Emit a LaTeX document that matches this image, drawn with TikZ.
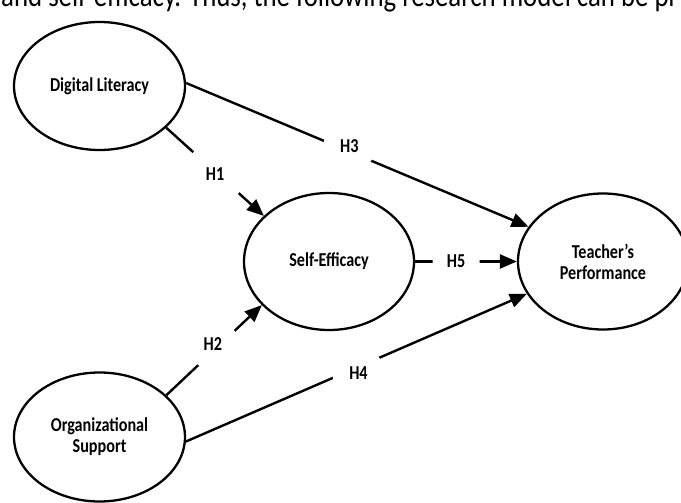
\documentclass[tikz,border=0pt]{standalone}
\usepackage{fontspec}
\setmainfont{Carlito}[FakeStretch=0.82]
\usetikzlibrary{shapes.geometric,arrows.meta}
\tikzset{
  latent/.style={draw, ellipse, line width=2.3pt, inner sep=1pt, align=center,
    font=\fontsize{19.7}{21}\selectfont\bfseries},
  link/.style={line width=2.4pt, -{Triangle[length=17pt,width=14pt]}},
  hyp/.style={circle, fill=white, inner sep=0pt,
    font=\fontsize{19.7}{21}\selectfont\bfseries},
}
\begin{document}
\begin{tikzpicture}[x=1pt,y=-1pt]
    \clip (0,0) rectangle (681,503);
    % cut-off line of running text above the figure
    \node [anchor=base west, inner sep=0pt] (intro) at (1,6.7)
        {\fontsize{32.7}{36}\selectfont and self-efficacy. Thus, the following research model can be pr};
    % constructs
    \node [latent, minimum width=171pt, minimum height=128pt] (dl) at (99.5,86) {Digital Literacy};
    \node [latent, minimum width=170pt, minimum height=137pt] (se) at (329,261.5) {Self-Efficacy};
    \node [latent, minimum width=170pt, minimum height=136pt] (tp) at (603,261.5) {Teacher’s\\ Performance};
    \node [latent, minimum width=171pt, minimum height=129pt] (os) at (99.5,437) {Organizational\\ Support};
    % hypotheses
    \draw [link] (dl.-32) -- node [hyp, pos=.5, minimum size=61pt, yshift=-2pt] (h1) {H1} (se.145);
    \draw [link] (dl.2) -- node [hyp, pos=.477, minimum size=52pt, yshift=5pt] (h3) {H3} (tp.155);
    \draw [link] (se.0) -- node [hyp, pos=.403, minimum size=47pt] (h5) {H5} (tp.180);
    \draw [link] (os.32) -- node [hyp, pos=.55, minimum size=51pt, xshift=-6pt, yshift=1.5pt] (h2) {H2} (se.-147);
    \draw [link] (os.-3) -- node [hyp, pos=.506, minimum size=52pt, yshift=-6.5pt] (h4) {H4} (tp.-157);
\end{tikzpicture}
\end{document}
